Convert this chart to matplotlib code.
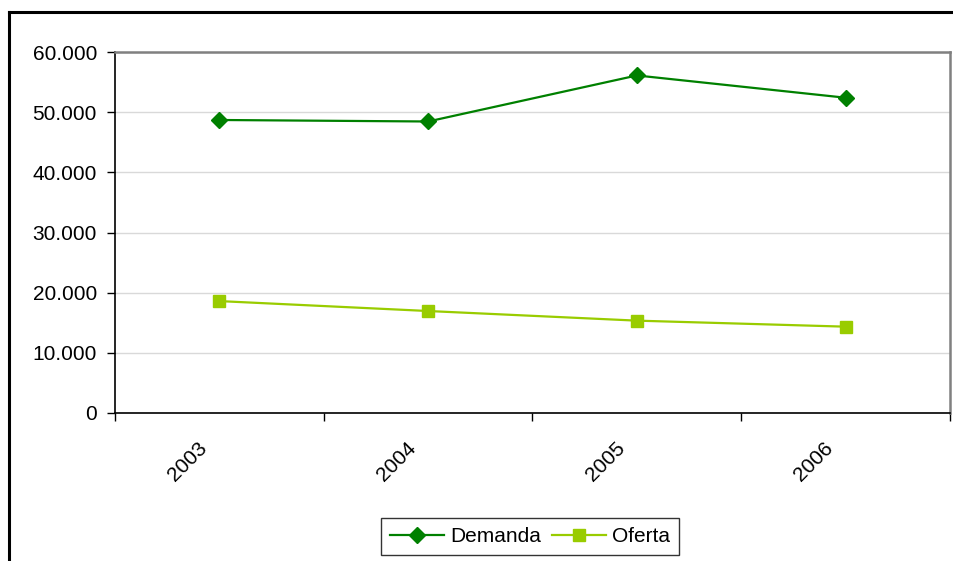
import matplotlib
matplotlib.use("Agg")
import matplotlib.pyplot as plt
from matplotlib.lines import Line2D
from matplotlib.ticker import FuncFormatter, FixedLocator
import matplotlib.transforms as mtransforms

plt.rcParams['font.family'] = ['Liberation Sans', 'DejaVu Sans']

years = ['2003', '2004', '2005', '2006']
demanda = [48700, 48450, 56100, 52400]
oferta = [18600, 16950, 15350, 14350]

W, H = 954, 561
fig = plt.figure(figsize=(W / 100, H / 100), dpi=100)

# outer frame (only left and top edges visible)
fig.add_artist(Line2D([9 / W, 9 / W], [0, 1 - 12 / H], transform=fig.transFigure,
                      color='black', lw=2.2))
fig.add_artist(Line2D([9 / W, 1], [1 - 12 / H, 1 - 12 / H], transform=fig.transFigure,
                      color='black', lw=2.2))

ax = fig.add_axes([115 / W, 1 - 413 / H, (950 - 115) / W, (413 - 52) / H])
x = range(len(years))
ax.plot(x, demanda, color='#008000', marker='D', markersize=8, lw=1.6, label='Demanda')
ax.plot(x, oferta, color='#99CC00', marker='s', markersize=8, lw=1.6, label='Oferta')

ax.set_xlim(-0.5, len(years) - 0.5)
ax.set_ylim(0, 60000)
ax.set_yticks(range(0, 60001, 10000))
ax.yaxis.set_major_formatter(FuncFormatter(lambda v, p: f"{int(v):,}".replace(',', '.')))
ax.grid(axis='y', color='#D9D9D9', lw=1)
ax.set_axisbelow(True)

# category boundaries carry the tick marks, labels sit at the centers
ax.xaxis.set_major_locator(FixedLocator([i - 0.5 for i in range(len(years) + 1)]))
ax.xaxis.set_minor_locator(FixedLocator(list(x)))
ax.set_xticklabels([])
ax.set_xticklabels(years, minor=True)
ax.tick_params(axis='x', which='major', direction='out', length=6, width=1)
ax.tick_params(axis='x', which='minor', length=0, labelsize=15, pad=23)
ax.tick_params(axis='y', direction='out', length=6, width=1, labelsize=15, pad=7)
offset = mtransforms.ScaledTranslation(-11 / 72, 0, fig.dpi_scale_trans)
for lab in ax.get_xticklabels(minor=True):
    lab.set_rotation(45)
    lab.set_rotation_mode('anchor')
    lab.set_ha('right')
    lab.set_va('center')
    lab.set_transform(lab.get_transform() + offset)

for s in ('left', 'bottom'):
    ax.spines[s].set_color('black')
    ax.spines[s].set_linewidth(1.2)
for s in ('top', 'right'):
    ax.spines[s].set_color('#808080')
    ax.spines[s].set_linewidth(1.8)

leg = fig.legend(loc='center', bbox_to_anchor=(530 / W, 1 - 536.5 / H), ncol=2,
                 fontsize=15, frameon=True, fancybox=False, edgecolor='black',
                 handlelength=2.6, columnspacing=0.5, handletextpad=0.3,
                 borderpad=0.45, borderaxespad=0)
leg.get_frame().set_linewidth(1)

fig.savefig('out.png', dpi=100)
